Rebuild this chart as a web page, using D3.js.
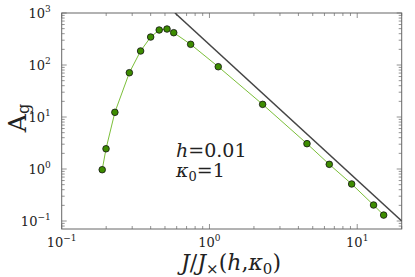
<!DOCTYPE html>
<html><head><meta charset="utf-8">
<script src="https://cdn.jsdelivr.net/npm/d3@7"></script>
<style>body{margin:0;background:#fff}svg{display:block}</style>
</head><body>
<svg id="c" width="415" height="277" font-family="'DejaVu Serif','Liberation Serif',serif"></svg>
<script>
const J = [0.188,0.1995,0.229,0.287,0.342,0.400,0.457,0.516,0.573,0.746,1.147,2.29,4.57,6.47,9.17,12.9,15.1];
const Ag = [0.97,2.45,12.3,71,186,345,471,492,418,250,92.7,17.5,3.07,1.23,0.515,0.203,0.130];
const asymJ = [0.584,20];
const asymA = [1000,0.1];
const xTickExp = [-1,0,1];
const yTickExp = [-1,0,1,2,3];

const svg = d3.select("#c");
const L=61.7,R=401.7,T=13,B=229;
const x = d3.scaleLog().domain([0.1,20]).range([L,R]);
const y = d3.scaleLog().domain([0.0702,1000]).range([B,T]);

const g = svg.append("g").attr("fill","#222");
svg.append("clipPath").attr("id","cp").append("rect").attr("x",L).attr("y",T).attr("width",R-L).attr("height",B-T);

const tickCol="#777";
const xMajor = xTickExp.map(e=>Math.pow(10,e));
const xMinor=[]; for(let e=-1;e<=1;e++) for(let k=2;k<=9;k++){const v=k*Math.pow(10,e); if(v<=20) xMinor.push(v);}
const yMajor = yTickExp.map(e=>Math.pow(10,e));
const yMinor=[]; for(let e=-2;e<=2;e++) for(let k=2;k<=9;k++){const v=k*Math.pow(10,e); if(v>=0.0702&&v<=1000) yMinor.push(v);}
function xt(vals,len){vals.forEach(v=>{const px=x(v);
 g.append("line").attr("x1",px).attr("x2",px).attr("y1",B).attr("y2",B-len).attr("stroke",tickCol).attr("stroke-width",0.8);
 g.append("line").attr("x1",px).attr("x2",px).attr("y1",T).attr("y2",T+len).attr("stroke",tickCol).attr("stroke-width",0.8);});}
function yt(vals,len){vals.forEach(v=>{const py=y(v);
 g.append("line").attr("x1",L).attr("x2",L+len).attr("y1",py).attr("y2",py).attr("stroke",tickCol).attr("stroke-width",0.8);
 g.append("line").attr("x1",R).attr("x2",R-len).attr("y1",py).attr("y2",py).attr("stroke",tickCol).attr("stroke-width",0.8);});}
xt(xMajor,5);xt(xMinor,3);yt(yMajor,5);yt(yMinor,3);

g.append("rect").attr("x",L).attr("y",T).attr("width",R-L).attr("height",B-T).attr("fill","none").attr("stroke","#666").attr("stroke-width",1);

xTickExp.forEach(e=>{const t=g.append("text").attr("x",x(Math.pow(10,e))).attr("y",B+18).attr("text-anchor","middle").attr("font-size",13);
 t.append("tspan").text("10"); t.append("tspan").attr("dy",-6).attr("font-size",9).text(e<0?"\u2212"+(-e):String(e));});
yTickExp.forEach(e=>{const t=g.append("text").attr("x",L-11).attr("y",y(Math.pow(10,e))+5).attr("text-anchor","end").attr("font-size",13);
 t.append("tspan").text("10"); t.append("tspan").attr("dy",-6).attr("font-size",9).text(e<0?"\u2212"+(-e):String(e));});

const pl = g.append("g").attr("clip-path","url(#cp)");
pl.append("path").datum(asymJ.map((d,i)=>[d,asymA[i]])).attr("d",d3.line().x(d=>x(d[0])).y(d=>y(d[1])))
 .attr("fill","none").attr("stroke","#444").attr("stroke-width",1.5);
const pts = J.map((d,i)=>[d,Ag[i]]);
pl.append("path").datum(pts).attr("d",d3.line().x(d=>x(d[0])).y(d=>y(d[1])))
 .attr("fill","none").attr("stroke","#7cbf3a").attr("stroke-width",1);
pl.selectAll("circle").data(pts).join("circle").attr("cx",d=>x(d[0])).attr("cy",d=>y(d[1])).attr("r",3.3)
 .attr("fill","#3d8c00").attr("stroke","#111").attr("stroke-width",0.8);

const a1=g.append("text").attr("x",176).attr("y",157).attr("font-size",19);
a1.append("tspan").attr("font-style","italic").text("h");a1.append("tspan").text("=0.01");
const a2=g.append("text").attr("x",176).attr("y",177).attr("font-size",19);
a2.append("tspan").attr("font-style","italic").text("\u03ba");a2.append("tspan").attr("font-size",13).attr("dy",4).text("0");
a2.append("tspan").attr("dy",-4).text("=1");

const xl=g.append("text").attr("x",231).attr("y",270).attr("text-anchor","middle").attr("font-size",22);
xl.append("tspan").attr("font-style","italic").text("J");xl.append("tspan").text("/");
xl.append("tspan").attr("font-style","italic").text("J");
xl.append("tspan").attr("font-size",15).attr("dy",4).text("\u00d7");
xl.append("tspan").attr("dy",-4).text("(");
xl.append("tspan").attr("font-style","italic").text("h");xl.append("tspan").text(",");
xl.append("tspan").attr("font-style","italic").text("\u03ba");
xl.append("tspan").attr("font-size",15).attr("dy",4).text("0");
xl.append("tspan").attr("dy",-4).text(")");

const yl=g.append("text").attr("transform","translate(26,118) rotate(-90)").attr("text-anchor","middle").attr("font-size",25);
yl.append("tspan").text("A");yl.append("tspan").attr("font-size",16).attr("dy",3).text("g");
</script>
</body></html>
